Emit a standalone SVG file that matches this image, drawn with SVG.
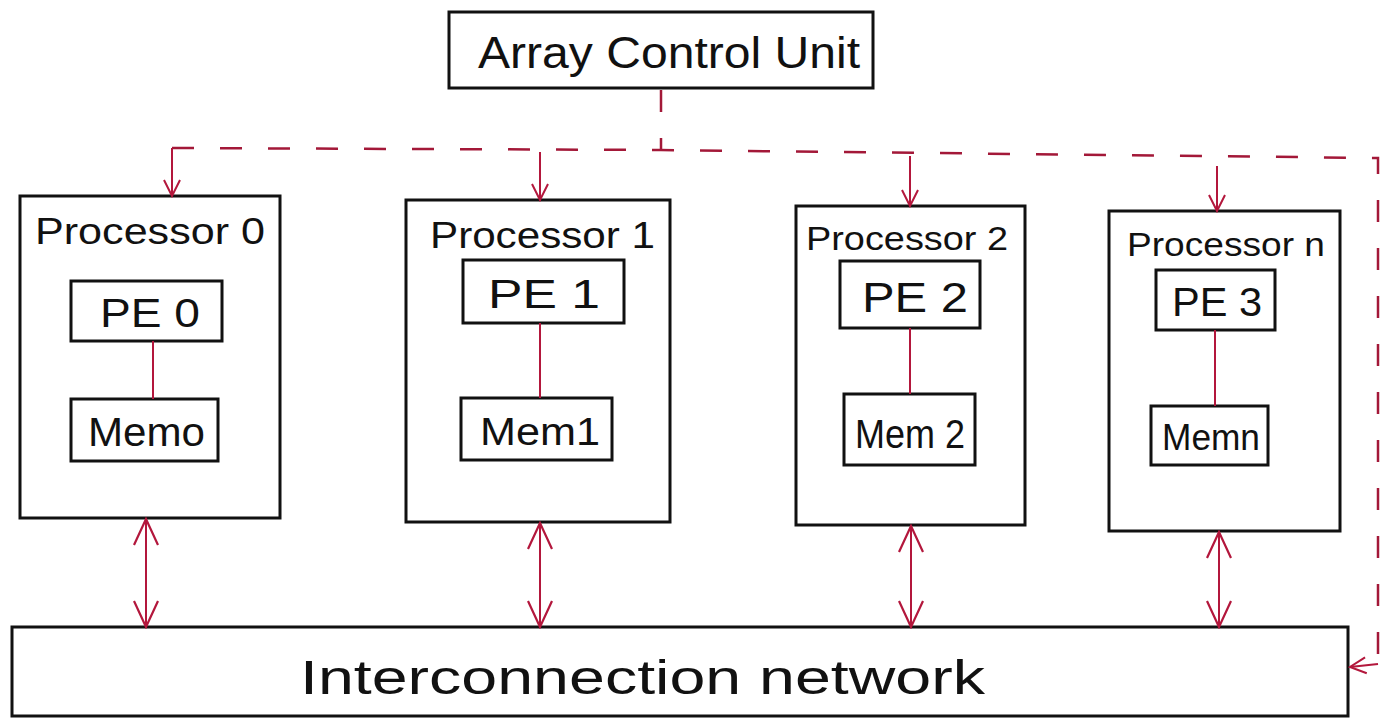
<svg xmlns="http://www.w3.org/2000/svg" width="1394" height="722" viewBox="0 0 1394 722">
  <style>
    .box { fill: none; stroke: #111; stroke-width: 3; }
    .lbl { font-family: "Liberation Sans", Arial, sans-serif; fill: #111; }
    .wire { stroke: #b3173c; stroke-width: 2; fill: none; }
    .ctl { stroke: #a31838; stroke-width: 2.5; fill: none; stroke-dasharray: 22 26; }
  </style>
  <defs>
    <marker id="head" viewBox="0 0 20 20" refX="18" refY="10" markerWidth="20" markerHeight="20" markerUnits="userSpaceOnUse" orient="auto-start-reverse">
      <path d="M2,2 L18,10 L2,18" fill="none" stroke="#b3173c" stroke-width="2"/>
    </marker>
    <marker id="headBig" viewBox="0 0 30 30" refX="28" refY="15" markerWidth="30" markerHeight="30" markerUnits="userSpaceOnUse" orient="auto-start-reverse">
      <path d="M2,3 L28,15 L2,27" fill="none" stroke="#b3173c" stroke-width="2.2"/>
    </marker>
  </defs>

  <rect width="1394" height="722" fill="#ffffff"/>

  <!-- control unit -->
  <g id="acu">
    <rect class="box" x="449" y="12" width="424" height="76"/>
    <text class="lbl" x="478" y="68" font-size="44" textLength="382" lengthAdjust="spacingAndGlyphs">Array Control Unit</text>
  </g>

  <!-- processors -->
  <g id="proc0">
    <rect class="box" x="20" y="196" width="260" height="322"/>
    <text class="lbl" x="35" y="244" font-size="36" textLength="230" lengthAdjust="spacingAndGlyphs">Processor 0</text>
    <rect class="box" x="71" y="281" width="151" height="60"/>
    <text class="lbl" x="100" y="327" font-size="40" textLength="100" lengthAdjust="spacingAndGlyphs">PE 0</text>
    <rect class="box" x="71" y="399" width="147" height="62"/>
    <text class="lbl" x="88" y="446" font-size="40" textLength="117" lengthAdjust="spacingAndGlyphs">Memo</text>
  </g>
  <g id="proc1">
    <rect class="box" x="406" y="200" width="264" height="322"/>
    <text class="lbl" x="430" y="248" font-size="36" textLength="225" lengthAdjust="spacingAndGlyphs">Processor 1</text>
    <rect class="box" x="463" y="260" width="161" height="63"/>
    <text class="lbl" x="488" y="308" font-size="40" textLength="112" lengthAdjust="spacingAndGlyphs">PE 1</text>
    <rect class="box" x="461" y="398" width="151" height="62"/>
    <text class="lbl" x="480" y="445" font-size="38" textLength="120" lengthAdjust="spacingAndGlyphs">Mem1</text>
  </g>
  <g id="proc2">
    <rect class="box" x="796" y="206" width="229" height="319"/>
    <text class="lbl" x="806" y="250" font-size="34" textLength="202" lengthAdjust="spacingAndGlyphs">Processor 2</text>
    <rect class="box" x="840" y="261" width="140" height="67"/>
    <text class="lbl" x="862" y="312" font-size="42" textLength="106" lengthAdjust="spacingAndGlyphs">PE 2</text>
    <rect class="box" x="844" y="394" width="131" height="71"/>
    <text class="lbl" x="855" y="448" font-size="40" textLength="110" lengthAdjust="spacingAndGlyphs">Mem 2</text>
  </g>
  <g id="procn">
    <rect class="box" x="1109" y="211" width="231" height="320"/>
    <text class="lbl" x="1127" y="256" font-size="33" textLength="198" lengthAdjust="spacingAndGlyphs">Processor n</text>
    <rect class="box" x="1156" y="270" width="119" height="60"/>
    <text class="lbl" x="1172" y="316" font-size="40" textLength="90" lengthAdjust="spacingAndGlyphs">PE 3</text>
    <rect class="box" x="1151" y="406" width="117" height="59"/>
    <text class="lbl" x="1162" y="450" font-size="36" textLength="98" lengthAdjust="spacingAndGlyphs">Memn</text>
  </g>

  <!-- network -->
  <g id="network">
    <rect class="box" x="12" y="627" width="1336" height="89"/>
    <text class="lbl" x="300" y="694" font-size="48" textLength="685" lengthAdjust="spacingAndGlyphs">Interconnection    network</text>
  </g>

  <!-- connectors -->
  <g id="connectors">
    <!-- control bus -->
    <path class="ctl" d="M661,90 L661,150"/>
    <path class="ctl" d="M172,148 L661,150 L1378,158 L1378,664" />
    <path class="wire" d="M1378,664 L1350,667" marker-end="url(#head)"/>
    <path class="wire" d="M172,148 L172,196" marker-end="url(#head)"/>
    <path class="wire" d="M540,152 L540,200" marker-end="url(#head)"/>
    <path class="wire" d="M910,156 L910,206" marker-end="url(#head)"/>
    <path class="wire" d="M1217,166 L1217,211" marker-end="url(#head)"/>

    <!-- PE to memory -->
    <path class="wire" d="M153,341 L153,399"/>
    <path class="wire" d="M540,323 L540,398"/>
    <path class="wire" d="M910,328 L910,394"/>
    <path class="wire" d="M1215,330 L1215,406"/>

    <!-- processor to network, both ways -->
    <path class="wire" d="M146,519 L146,627" marker-start="url(#headBig)" marker-end="url(#headBig)"/>
    <path class="wire" d="M540,523 L540,627" marker-start="url(#headBig)" marker-end="url(#headBig)"/>
    <path class="wire" d="M911,526 L911,627" marker-start="url(#headBig)" marker-end="url(#headBig)"/>
    <path class="wire" d="M1219,532 L1219,627" marker-start="url(#headBig)" marker-end="url(#headBig)"/>
  </g>
</svg>
